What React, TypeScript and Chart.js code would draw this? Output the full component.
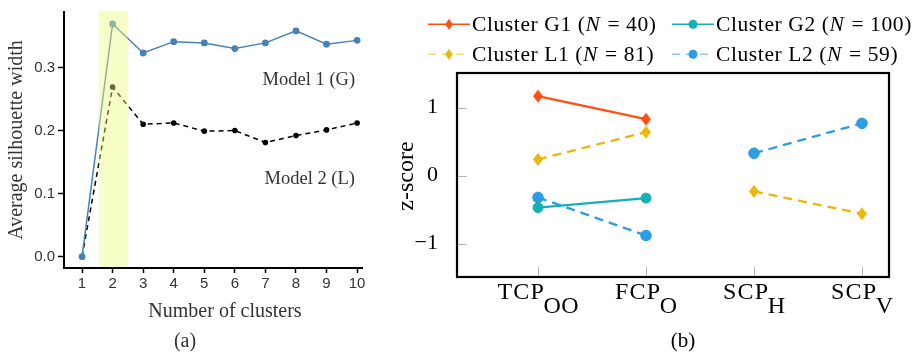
import React, { useEffect, useRef } from "react";
import { Chart, registerables } from "chart.js";

Chart.register(...registerables);

// ---------- Panel (a) data ----------
const clusterCounts = [1, 2, 3, 4, 5, 6, 7, 8, 9, 10];
const model1G = [0.0, 0.369, 0.323, 0.341, 0.339, 0.330, 0.339, 0.358, 0.337, 0.343];
const model2L = [0.0, 0.269, 0.210, 0.212, 0.199, 0.200, 0.181, 0.192, 0.201, 0.212];
const silhouetteTicks = [0.0, 0.1, 0.2, 0.3];
const highlightRange = [1.55, 2.5];
const modelLabels = ["Model 1 (G)", "Model 2 (L)"];
const modelLabelX = [8.42, 8.45];
const modelLabelY = [0.273, 0.116];

// ---------- Panel (b) data ----------
const measureMain = ["TCP", "FCP", "SCP", "SCP"];
const measureSub = ["OO", "O", "H", "V"];
const measureGroup = [0, 0, 1, 1];
const clusterG1 = [1.17, 0.83, null, null];
const clusterG2 = [-0.47, -0.33, null, null];
const clusterL1 = [0.24, 0.64, -0.23, -0.56];
const clusterL2 = [-0.32, -0.88, 0.33, 0.77];
const zTicks = [-1, 0, 1];
const legendNames = ["Cluster G1", "Cluster G2", "Cluster L1", "Cluster L2"];
const legendN = [40, 100, 81, 59];

const SERIF = '"Liberation Serif", "Times New Roman", serif';
const SANS = '"Liberation Sans", Arial, sans-serif';

const COLORS = {
  g1: "#ff5014",
  g2: "#14b1b4",
  l1: "#e8b80a",
  l2: "#2d9de2",
};

function makeDiamond(color: string, hw: number, hh: number): HTMLCanvasElement {
  const c = document.createElement("canvas");
  c.width = Math.ceil(hw * 2 + 2);
  c.height = Math.ceil(hh * 2 + 2);
  const g = c.getContext("2d")!;
  const cx = c.width / 2;
  const cy = c.height / 2;
  g.fillStyle = color;
  g.beginPath();
  g.moveTo(cx, cy - hh);
  g.lineTo(cx + hw, cy);
  g.lineTo(cx, cy + hh);
  g.lineTo(cx - hw, cy);
  g.closePath();
  g.fill();
  return c;
}

function toPoints(values: (number | null)[]) {
  const pts: { x: number; y: number | null }[] = [];
  values.forEach((v, i) => {
    pts.push({ x: i + 1, y: v });
    if (i < values.length - 1 && measureGroup[i] !== measureGroup[i + 1]) {
      pts.push({ x: i + 1.5, y: null });
    }
  });
  return pts;
}

function LeftChart() {
  const ref = useRef<HTMLCanvasElement>(null);
  useEffect(() => {
    const canvas = ref.current!;
    const textPlugin = {
      id: "leftTexts",
      afterDatasetsDraw(chart: any) {
        const { ctx, chartArea, scales } = chart;
        const xs = scales.x;
        ctx.save();
        ctx.fillStyle = "rgba(236, 250, 120, 0.42)";
        const x0 = xs.getPixelForValue(highlightRange[0]);
        const x1 = xs.getPixelForValue(highlightRange[1]);
        ctx.fillRect(x0, chartArea.top - 1, x1 - x0, chartArea.bottom - chartArea.top);
        ctx.restore();
      },
      afterDraw(chart: any) {
        const { ctx, scales } = chart;
        ctx.save();
        ctx.fillStyle = "#333";
        ctx.font = `18.5px ${SERIF}`;
        ctx.textAlign = "center";
        ctx.textBaseline = "alphabetic";
        modelLabels.forEach((t, i) => {
          ctx.fillText(t, scales.x.getPixelForValue(modelLabelX[i]), scales.y.getPixelForValue(modelLabelY[i]));
        });
        ctx.font = `20px ${SERIF}`;
        ctx.fillText("Number of clusters", 225, 317);
        ctx.fillText("(a)", 185, 347);
        ctx.save();
        ctx.translate(21.5, 140);
        ctx.rotate(-Math.PI / 2);
        ctx.fillText("Average silhouette width", 0, 0);
        ctx.restore();
        ctx.restore();
      },
    };
    const chart = new Chart(canvas, {
      type: "line",
      data: {
        datasets: [
          {
            label: "Model 1 (G)",
            data: clusterCounts.map((c, i) => ({ x: c, y: model1G[i] })),
            borderColor: "#4682b4",
            backgroundColor: "#4682b4",
            borderWidth: 1.5,
            pointRadius: 3.4,
            pointBorderWidth: 0,
            pointBackgroundColor: "#4682b4",
          },
          {
            label: "Model 2 (L)",
            data: clusterCounts.map((c, i) => ({ x: c, y: model2L[i] })),
            borderColor: "#000",
            backgroundColor: "#000",
            borderWidth: 1.5,
            borderDash: [5, 4],
            pointRadius: 2.8,
            pointBorderWidth: 0,
            pointBackgroundColor: "#000",
          },
        ],
      },
      options: {
        animation: false,
        responsive: false,
        maintainAspectRatio: false,
        layout: { padding: { top: 11, right: 13, left: 0, bottom: 0 } },
        plugins: { legend: { display: false }, tooltip: { enabled: false } },
        scales: {
          x: {
            type: "linear",
            min: 0.41,
            max: 10.16,
            afterBuildTicks: (s: any) => {
              s.ticks = clusterCounts.map((v) => ({ value: v }));
            },
            afterFit: (s: any) => {
              s.height = 85;
            },
            border: { display: true, color: "#000", width: 2 },
            grid: { display: true, drawOnChartArea: false, drawTicks: true, tickLength: 5, tickColor: "#000", tickWidth: 1.5, color: "rgba(0,0,0,0)" },
            ticks: { color: "#333", font: { family: SANS, size: 15 }, padding: 2, maxRotation: 0, autoSkip: false, callback: (v: any) => String(v) },
          },
          y: {
            type: "linear",
            min: -0.018,
            max: 0.388,
            afterBuildTicks: (s: any) => {
              s.ticks = silhouetteTicks.map((v) => ({ value: v }));
            },
            afterFit: (s: any) => {
              s.width = 64;
            },
            border: { display: true, color: "#000", width: 2 },
            grid: { display: true, drawOnChartArea: false, drawTicks: true, tickLength: 6, tickColor: "#000", tickWidth: 1.5, color: "rgba(0,0,0,0)" },
            ticks: { color: "#333", font: { family: SANS, size: 15 }, padding: 3, callback: (v: any) => Number(v).toFixed(1) },
          },
        },
      },
      plugins: [textPlugin],
    } as any);
    return () => chart.destroy();
  }, []);
  return <canvas ref={ref} width={375} height={353} style={{ position: "absolute", left: 0, top: 0, width: 375, height: 353 }} />;
}

function RightChart() {
  const ref = useRef<HTMLCanvasElement>(null);
  useEffect(() => {
    const canvas = ref.current!;
    const OFFSET = 375;
    const g1Diamond = makeDiamond(COLORS.g1, 5, 6.5);
    const l1Diamond = makeDiamond(COLORS.l1, 5, 6.5);
    const g1LegDiamond = makeDiamond(COLORS.g1, 3.8, 5.6);
    const l1LegDiamond = makeDiamond(COLORS.l1, 3.8, 5.6);

    const legendItems = [
      { color: COLORS.g1, line: COLORS.g1, dashed: false, marker: g1LegDiamond as any, col: 0, row: 0 },
      { color: COLORS.g2, line: COLORS.g2, dashed: false, marker: "circle", col: 1, row: 0 },
      { color: COLORS.l1, line: "rgba(232,184,10,0.55)", dashed: true, marker: l1LegDiamond as any, col: 0, row: 1 },
      { color: COLORS.l2, line: "rgba(45,157,226,0.55)", dashed: true, marker: "circle", col: 1, row: 1 },
    ];
    const colX = [428 - OFFSET, 672 - OFFSET];
    const rowY = [24.3, 54.3];

    const plugin = {
      id: "rightDecor",
      beforeDatasetsDraw(chart: any) {
        const { ctx, chartArea, scales } = chart;
        ctx.save();
        ctx.strokeStyle = "#b4b4b4";
        ctx.lineWidth = 1;
        zTicks.forEach((v) => {
          const y = Math.round(scales.y.getPixelForValue(v)) + 0.5;
          ctx.beginPath();
          ctx.moveTo(chartArea.left, y);
          ctx.lineTo(chartArea.left + 10, y);
          ctx.stroke();
        });
        measureMain.forEach((_, i) => {
          const x = Math.round(scales.x.getPixelForValue(i + 1)) + 0.5;
          ctx.beginPath();
          ctx.moveTo(x, chartArea.bottom);
          ctx.lineTo(x, chartArea.bottom - 10);
          ctx.stroke();
        });
        ctx.restore();
      },
      afterDatasetsDraw(chart: any) {
        const { ctx, chartArea } = chart;
        ctx.save();
        ctx.strokeStyle = "#000";
        ctx.lineWidth = 2.2;
        ctx.strokeRect(chartArea.left, chartArea.top, chartArea.right - chartArea.left, chartArea.bottom - chartArea.top);
        ctx.restore();
      },
      afterDraw(chart: any) {
        const { ctx, scales } = chart;
        ctx.save();
        // category labels with subscripts
        ctx.fillStyle = "#000";
        ctx.textBaseline = "alphabetic";
        ctx.textAlign = "left";
        ctx.font = `24px ${SERIF}`;
        const mainSp = 1.2;
        const subSp = 0.4;
        measureMain.forEach((m, i) => {
          (ctx as any).letterSpacing = `${mainSp}px`;
          const wMain = ctx.measureText(m).width - mainSp;
          (ctx as any).letterSpacing = `${subSp}px`;
          const wSub = ctx.measureText(measureSub[i]).width - subSp;
          const gap = -0.5;
          const cx = scales.x.getPixelForValue(i + 1);
          const start = cx - (wMain + gap + wSub) / 2;
          (ctx as any).letterSpacing = `${mainSp}px`;
          ctx.fillText(m, start, 298.5);
          (ctx as any).letterSpacing = `${subSp}px`;
          ctx.fillText(measureSub[i], start + wMain + gap, 312.5);
        });
        (ctx as any).letterSpacing = "0px";
        // panel label
        ctx.textAlign = "center";
        ctx.font = `21px ${SERIF}`;
        ctx.fillText("(b)", 683 - OFFSET, 347);
        // y title
        ctx.save();
        ctx.translate(413 - OFFSET, 176);
        ctx.rotate(-Math.PI / 2);
        ctx.font = `24px ${SERIF}`;
        ctx.fillText("z-score", 0, 0);
        ctx.restore();
        // legend
        legendItems.forEach((it, i) => {
          const x = colX[it.col];
          const y = rowY[it.row];
          ctx.save();
          ctx.strokeStyle = it.line;
          ctx.lineWidth = 1.4;
          if (it.dashed) ctx.setLineDash([8, 6]);
          ctx.beginPath();
          ctx.moveTo(x, y);
          ctx.lineTo(x + 42, y);
          ctx.stroke();
          ctx.setLineDash([]);
          if (it.marker === "circle") {
            ctx.fillStyle = it.color;
            ctx.beginPath();
            ctx.arc(x + 21, y, 4.5, 0, Math.PI * 2);
            ctx.fill();
          } else {
            const m = it.marker as HTMLCanvasElement;
            ctx.drawImage(m, x + 21 - m.width / 2, y - m.height / 2);
          }
          ctx.restore();
          ctx.save();
          ctx.fillStyle = "#000";
          ctx.textAlign = "left";
          ctx.textBaseline = "alphabetic";
          (ctx as any).letterSpacing = "0.6px";
          let tx = x + 44;
          const by = y + 6.8;
          ctx.font = `21.5px ${SERIF}`;
          const p1 = `${legendNames[i]} (`;
          ctx.fillText(p1, tx, by);
          tx += ctx.measureText(p1).width;
          ctx.font = `italic 21.5px ${SERIF}`;
          ctx.fillText("N", tx, by);
          tx += ctx.measureText("N").width;
          ctx.font = `21.5px ${SERIF}`;
          ctx.fillText(` = ${legendN[i]})`, tx + 1, by);
          ctx.restore();
        });
        ctx.restore();
      },
    };

    const chart = new Chart(canvas, {
      type: "line",
      data: {
        datasets: [
          {
            label: "Cluster G1",
            data: toPoints(clusterG1),
            borderColor: COLORS.g1,
            backgroundColor: COLORS.g1,
            borderWidth: 2.3,
            pointStyle: g1Diamond,
            pointRadius: 6,
            spanGaps: false,
          },
          {
            label: "Cluster G2",
            data: toPoints(clusterG2),
            borderColor: COLORS.g2,
            backgroundColor: COLORS.g2,
            borderWidth: 2.1,
            pointRadius: 5,
            pointBorderWidth: 1,
            pointBackgroundColor: COLORS.g2,
            pointBorderColor: COLORS.g2,
            spanGaps: false,
          },
          {
            label: "Cluster L1",
            data: toPoints(clusterL1),
            borderColor: COLORS.l1,
            backgroundColor: COLORS.l1,
            borderWidth: 2.3,
            borderDash: [9, 6],
            pointStyle: l1Diamond,
            pointRadius: 6,
            spanGaps: false,
          },
          {
            label: "Cluster L2",
            data: toPoints(clusterL2),
            borderColor: COLORS.l2,
            backgroundColor: COLORS.l2,
            borderWidth: 2.3,
            borderDash: [9, 6],
            pointRadius: 5.3,
            pointBorderWidth: 1,
            pointBackgroundColor: COLORS.l2,
            pointBorderColor: COLORS.l2,
            spanGaps: false,
          },
        ],
      },
      options: {
        animation: false,
        responsive: false,
        maintainAspectRatio: false,
        layout: { padding: { top: 73, right: 32, left: 0, bottom: 0 } },
        plugins: { legend: { display: false }, tooltip: { enabled: false } },
        scales: {
          x: {
            type: "linear",
            min: 0.25,
            max: 4.25,
            afterBuildTicks: (s: any) => {
              s.ticks = measureMain.map((_, i) => ({ value: i + 1 }));
            },
            afterFit: (s: any) => {
              s.height = 76;
            },
            border: { display: false },
            grid: { display: false },
            ticks: { display: false },
          },
          y: {
            type: "linear",
            min: -1.49,
            max: 1.51,
            afterBuildTicks: (s: any) => {
              s.ticks = zTicks.map((v) => ({ value: v }));
            },
            afterFit: (s: any) => {
              s.width = 82;
            },
            border: { display: false },
            grid: { display: false },
            ticks: {
              color: "#000",
              font: { family: SERIF, size: 22 },
              padding: 11,
              callback: (v: any) => (Number(v) < 0 ? "\u2212" + Math.abs(Number(v)) : String(v)),
            },
          },
        },
      },
      plugins: [plugin],
    } as any);
    return () => chart.destroy();
  }, []);
  return <canvas ref={ref} width={546} height={353} style={{ position: "absolute", left: 375, top: 0, width: 546, height: 353 }} />;
}

export default function App() {
  return (
    <div style={{ position: "absolute", left: 0, top: 0, width: 921, height: 353, background: "#fff", overflow: "hidden" }}>
      <LeftChart />
      <RightChart />
    </div>
  );
}
